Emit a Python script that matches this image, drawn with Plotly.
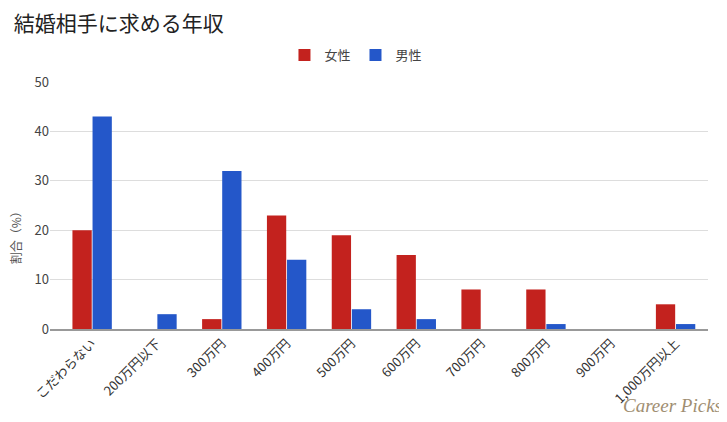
import plotly.graph_objects as go

categories = ["こだわらない", "200万円以下", "300万円", "400万円", "500万円",
              "600万円", "700万円", "800万円", "900万円", "1,000万円以上"]
female = [20, 0, 2, 23, 19, 15, 8, 8, 0, 5]
male = [43, 3, 32, 14, 4, 2, 0, 1, 0, 1]
y_ticks = [0, 10, 20, 30, 40, 50]

font_family = "Noto Sans CJK JP, Noto Sans, sans-serif"

fig = go.Figure()
fig.add_trace(go.Bar(name="女性", x=categories, y=female, marker_color="#c3221e",
                     marker_line_width=0))
fig.add_trace(go.Bar(name="男性", x=categories, y=male, marker_color="#2457c9",
                     marker_line_width=0))

fig.update_layout(
    width=719, height=414,
    margin=dict(l=42, r=19, t=74, b=93),
    paper_bgcolor="white", plot_bgcolor="white",
    font=dict(family=font_family, color="#444", size=13),
    barmode="group", bargap=0.38, bargroupgap=0.04,
    title=dict(text="結婚相手に求める年収", x=0.008, xanchor="left", y=0.962, yanchor="middle",
               font=dict(size=21, color="#222", family=font_family)),
    legend=dict(orientation="h", x=0.465, xanchor="center", y=1.109, yanchor="middle",
                font=dict(size=13, color="#444"), itemwidth=30, traceorder="normal"),
    xaxis=dict(tickangle=-45, showgrid=False, showline=True, linecolor="#999", linewidth=1.5,
               range=[-0.65, 9.5], tickfont=dict(size=13, color="#333"), ticks=""),
    yaxis=dict(range=[0, 50], tickvals=y_ticks, showgrid=True, gridcolor="#ddd",
               zeroline=False, tickfont=dict(size=13, color="#444"), ticks=""),
)

fig.add_annotation(text="割合（%）", xref="paper", yref="paper", x=-0.053, y=0.38,
                   xanchor="center", yanchor="middle", textangle=-90, showarrow=False,
                   font=dict(size=12, color="#555", family=font_family))

fig.add_annotation(text="Career Picks", xref="paper", yref="paper", x=1.024, y=-0.308,
                   xanchor="right", yanchor="middle", showarrow=False,
                   font=dict(family="Liberation Serif, DejaVu Serif, serif", size=19,
                             color="#a08e72", style="italic"))

fig.write_html("out.html")
